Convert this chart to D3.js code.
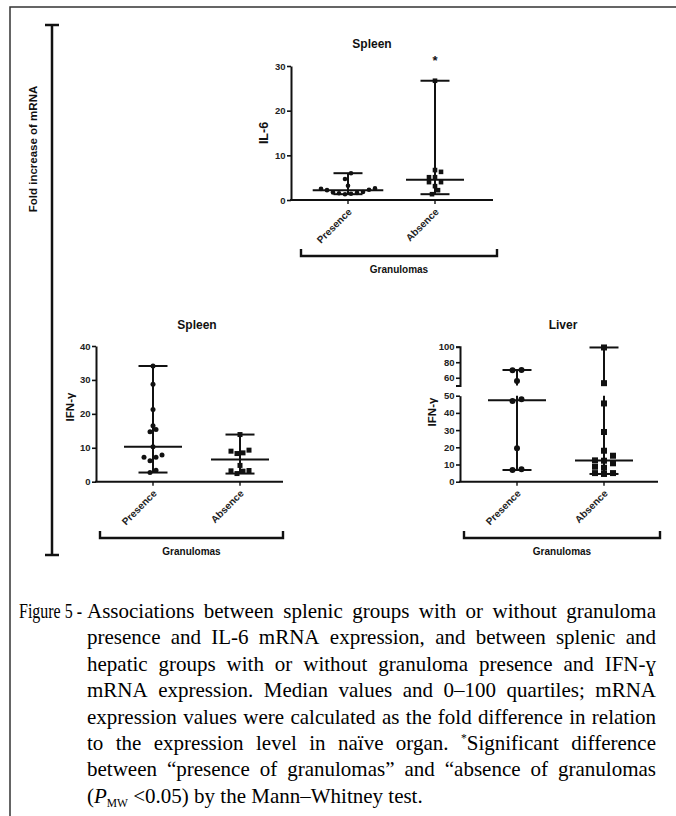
<!DOCTYPE html>
<html><head><meta charset="utf-8">
<script src="https://cdn.jsdelivr.net/npm/d3@7"></script>
<style>body{margin:0;background:#fff}svg{display:block}</style>
</head><body>
<svg id="c" width="676" height="816"></svg>
<script>
// ---------- DATA ----------
const groups = ["Presence", "Absence"];
const il6Presence = [2.5, 2.2, 1.7, 1.6, 1.5, 1.3, 1.4, 1.8, 2.3, 2.6, 3.2, 4.7, 6.0];
const il6Absence = [26.7, 6.7, 6.3, 5.1, 5.1, 4.0, 4.0, 3.1, 2.2, 1.3];
const ifnSpleenPresence = [34.1, 28.7, 21.3, 16.5, 15.4, 14.7, 10.3, 7.9, 7.2, 7.2, 6.2, 3.4, 2.7];
const ifnSpleenAbsence = [13.9, 9.3, 9.0, 8.5, 8.3, 4.8, 3.3, 3.2, 3.1, 2.4];
const ifnLiverPresence = [70.0, 69.6, 55.7, 47.9, 46.9, 19.4, 7.2, 6.8];
const ifnLiverAbsence = [99, 53, 45.5, 28.9, 18.0, 15.1, 12.4, 12.2, 10.7, 8.7, 8.1, 5.0, 5.0, 4.5];
const il6Ticks = [0, 10, 20, 30];
const spleenIfnTicks = [0, 10, 20, 30, 40];
const liverLowerTicks = [0, 10, 20, 30, 40, 50];
const liverUpperTicks = [60, 80, 100];
const titles = ["Spleen", "Spleen", "Liver"];
const yLabels = ["IL-6", "IFN-γ", "IFN-γ"];
const bracketLabel = "Granulomas";
const sideLabel = "Fold increase of mRNA";
const captionPrefix = "Figure 5 -";
const captionLines = [
  "Associations between splenic groups with or without granuloma",
  "presence and IL-6 mRNA expression, and between splenic and",
  "hepatic groups with or without granuloma presence and IFN-ɣ",
  "mRNA expression. Median values and 0–100 quartiles; mRNA",
  "expression values were calculated as the fold difference in relation",
  "to the expression level in naïve organ. *Significant difference",
  "between “presence of granulomas” and “absence of granulomas"
];

// ---------- SETUP ----------
const svg = d3.select("#c");
const SANS = "'Liberation Sans', Arial, Helvetica, sans-serif";
const SERIF = "'Liberation Serif', 'Times New Roman', serif";
const ink = "#111";

svg.append("path").attr("d", "M10,816V7H676").attr("fill", "none")
  .attr("stroke", "#333").attr("stroke-width", 1.5);

const side = svg.append("g").attr("stroke", ink).attr("stroke-width", 2.5);
side.append("line").attr("x1", 52).attr("x2", 52).attr("y1", 25).attr("y2", 555);
side.append("line").attr("x1", 45).attr("x2", 59).attr("y1", 25).attr("y2", 25);
side.append("line").attr("x1", 45).attr("x2", 59).attr("y1", 555).attr("y2", 555);
svg.append("text").attr("transform", "translate(37,149) rotate(-90)")
  .attr("text-anchor", "middle").attr("font-family", SANS).attr("font-weight", "bold")
  .attr("font-size", 11.5).attr("fill", ink).text(sideLabel);

function swarm(values, yf, s, thr) {
  const pts = values.map(v => ({ v, y: yf(v), dx: 0 })).sort((a, b) => b.y - a.y);
  const rows = []; let cur = null;
  pts.forEach(p => {
    if (cur && cur.y0 - p.y <= thr) cur.items.push(p);
    else { cur = { y0: p.y, items: [p] }; rows.push(cur); }
  });
  rows.forEach(r => {
    const n = r.items.length;
    const offs = d3.range(n).map(i => (i - (n - 1) / 2) * s)
      .sort((a, b) => Math.abs(a) - Math.abs(b) || a - b);
    r.items.sort((a, b) => a.v - b.v).forEach((p, i) => p.dx = offs[i]);
  });
  return pts;
}

function panel(cfg) {
  const g = svg.append("g");
  const x = d3.scalePoint().domain(groups).range([cfg.x0 + 57, cfg.x0 + 57 + 87]);
  const segs = cfg.segments.map(s => ({ ...s, scale: d3.scaleLinear().domain(s.domain).range(s.range) }));
  const yf = v => {
    const s = segs.find(s => v >= s.domain[0] && v <= s.domain[1]) || segs[segs.length - 1];
    return s.scale(v);
  };
  const y0 = segs[0].scale(0);

  segs.forEach(s => {
    const ax = g.append("g").attr("transform", `translate(${cfg.x0},0)`)
      .call(d3.axisLeft(s.scale).tickValues(s.ticks).tickSize(4).tickSizeOuter(s.outer ? 4 : 0).tickPadding(1.5)
        .tickFormat(d3.format("d")));
    ax.select(".domain").attr("stroke", ink).attr("stroke-width", 2);
    ax.selectAll(".tick line").attr("stroke", ink).attr("stroke-width", 1.6);
    ax.selectAll(".tick text").attr("font-family", SANS).attr("font-weight", "bold")
      .attr("font-size", 9.5).attr("fill", "#222");
  });
  g.append("line").attr("x1", cfg.x0 - 1).attr("x2", cfg.xEnd).attr("y1", y0).attr("y2", y0)
    .attr("stroke", ink).attr("stroke-width", 2);
  groups.forEach(k => {
    g.append("line").attr("x1", x(k)).attr("x2", x(k)).attr("y1", y0).attr("y2", y0 + 4)
      .attr("stroke", ink).attr("stroke-width", 1.4);
    g.append("text").attr("transform", `translate(${x(k) + 2},${y0 + 10}) rotate(-45)`)
      .attr("text-anchor", "end").attr("dy", "0.35em").attr("font-family", SANS)
      .attr("font-weight", "bold").attr("font-size", 10).attr("fill", "#222").text(k);
  });
  g.append("text").attr("x", cfg.titleX).attr("y", cfg.titleY).attr("text-anchor", "middle")
    .attr("font-family", SANS).attr("font-weight", "bold").attr("font-size", 12).attr("fill", ink).text(cfg.title);
  g.append("text").attr("transform", `translate(${cfg.ylx},${cfg.yly}) rotate(-90)`)
    .attr("text-anchor", "middle").attr("font-family", SANS).attr("font-weight", "bold")
    .attr("font-size", cfg.ylSize).attr("fill", ink).text(cfg.yLabel);
  const b = cfg.bracket;
  g.append("path").attr("d", `M${b.x1},${b.y - 7}V${b.y}H${b.x2}V${b.y - 7}`).attr("fill", "none")
    .attr("stroke", ink).attr("stroke-width", 2.4);
  g.append("text").attr("x", (b.x1 + b.x2) / 2).attr("y", b.y + 17).attr("text-anchor", "middle")
    .attr("font-family", SANS).attr("font-weight", "bold").attr("font-size", 10).attr("fill", ink).text(bracketLabel);

  cfg.data.forEach((vals, i) => {
    const k = groups[i], cx = x(k);
    const mn = d3.min(vals), mx = d3.max(vals), md = d3.median(vals);
    const pts = swarm(vals, yf, cfg.spacing, cfg.thr);
    const spread = d3.max(pts, p => Math.abs(p.dx));
    const medW = Math.max(58, spread * 2 + cfg.size + 12);
    const lg = g.append("g").attr("stroke", ink).attr("stroke-width", 2);
    segs.forEach(s => {
      const lo = Math.max(mn, s.domain[0]), hi = Math.min(mx, s.domain[1]);
      if (hi > lo) lg.append("line").attr("x1", cx).attr("x2", cx).attr("y1", s.scale(lo)).attr("y2", s.scale(hi));
    });
    [mn, mx].forEach(v => lg.append("line").attr("x1", cx - 14.5).attr("x2", cx + 14.5).attr("y1", yf(v)).attr("y2", yf(v)));
    lg.append("line").attr("x1", cx - medW / 2).attr("x2", cx + medW / 2).attr("y1", yf(md)).attr("y2", yf(md));
    const shape = cfg.shapes[i];
    const pg = g.append("g").attr("fill", ink);
    pts.forEach(p => {
      if (shape === "circle") pg.append("circle").attr("cx", cx + p.dx).attr("cy", p.y).attr("r", cfg.size / 2);
      else pg.append("rect").attr("x", cx + p.dx - cfg.size / 2).attr("y", p.y - cfg.size / 2)
        .attr("width", cfg.size).attr("height", cfg.size);
    });
    if (cfg.star && cfg.star[i]) {
      g.append("text").attr("x", cx).attr("y", yf(mx) - 16).attr("text-anchor", "middle")
        .attr("font-family", SANS).attr("font-weight", "bold").attr("font-size", 13).attr("fill", ink).text("*");
    }
  });
}

panel({
  x0: 291, xEnd: 493, title: titles[0], titleX: 372, titleY: 48, yLabel: yLabels[0], ylx: 268, yly: 133, ylSize: 12.5,
  segments: [{ domain: [0, 30], range: [200, 66], ticks: il6Ticks }],
  bracket: { x1: 301, x2: 497, y: 256 }, data: [il6Presence, il6Absence], shapes: ["circle", "square"],
  size: 4.6, spacing: 6, thr: 6, star: [false, true]
});
panel({
  x0: 96, xEnd: 283, title: titles[1], titleX: 197, titleY: 329, yLabel: yLabels[1], ylx: 74, yly: 407, ylSize: 11.5,
  segments: [{ domain: [0, 40], range: [481.7, 346], ticks: spleenIfnTicks }],
  bracket: { x1: 100, x2: 283, y: 538 }, data: [ifnSpleenPresence, ifnSpleenAbsence], shapes: ["circle", "square"],
  size: 5, spacing: 6, thr: 6
});
panel({
  x0: 460, xEnd: 658, title: titles[2], titleX: 563, titleY: 329, yLabel: yLabels[2], ylx: 436, yly: 412, ylSize: 11.5,
  segments: [{ domain: [0, 50], range: [481.7, 395.7], ticks: liverLowerTicks },
             { domain: [50, 100], range: [385.5, 346.7], ticks: liverUpperTicks, outer: true }],
  bracket: { x1: 464, x2: 660, y: 538 }, data: [ifnLiverPresence, ifnLiverAbsence], shapes: ["circle", "square"],
  size: 6, spacing: 9, thr: 5.5
});

// ---------- CAPTION ----------
const cap = svg.append("g").attr("font-family", SERIF).attr("fill", "#000");
const X1 = 87, X2 = 656, BASE = 618, LH = 26.4, FS = 21;
function makeWord(gr, w) {
  const t = gr.append("text").attr("font-size", FS);
  if (w.startsWith("*")) {
    t.append("tspan").attr("font-size", FS * 0.55).attr("dy", -FS * 0.38).text("*");
    t.append("tspan").attr("dy", FS * 0.38).text(w.slice(1));
  } else t.text(w);
  return t;
}
const probe = cap.append("text").attr("font-size", FS).text(captionLines[4]);
const nat = probe.node().getComputedTextLength();
probe.remove();
const SX = Math.min(1, (X2 - X1) / nat);

// prefix squeezed into the hanging-indent space
const pre = cap.append("text").attr("font-size", FS).text(captionPrefix);
const preW = pre.node().getComputedTextLength();
const preTarget = 63;
pre.attr("transform", `translate(19,${BASE}) scale(${preTarget / preW},1)`);

captionLines.forEach((line, li) => {
  const y = BASE + li * LH;
  const gr = cap.append("g");
  const nodes = line.split(" ").map(w => { const t = makeWord(gr, w); return { t, w: t.node().getComputedTextLength() * SX }; });
  const total = d3.sum(nodes, n => n.w);
  const gap = (X2 - X1 - total) / (nodes.length - 1);
  let xx = X1;
  nodes.forEach(n => { n.t.attr("transform", `translate(${xx},${y}) scale(${SX},1)`); xx += n.w + gap; });
});
const last = cap.append("text").attr("font-size", FS)
  .attr("transform", `translate(${X1},${BASE + 7 * LH}) scale(${SX},1)`);
last.append("tspan").text("(");
last.append("tspan").attr("font-style", "italic").text("P");
last.append("tspan").attr("font-size", FS * 0.55).attr("dy", FS * 0.22).text("MW");
last.append("tspan").attr("dy", -FS * 0.22).text(" <0.05) by the Mann–Whitney test.");
</script>
</body></html>
